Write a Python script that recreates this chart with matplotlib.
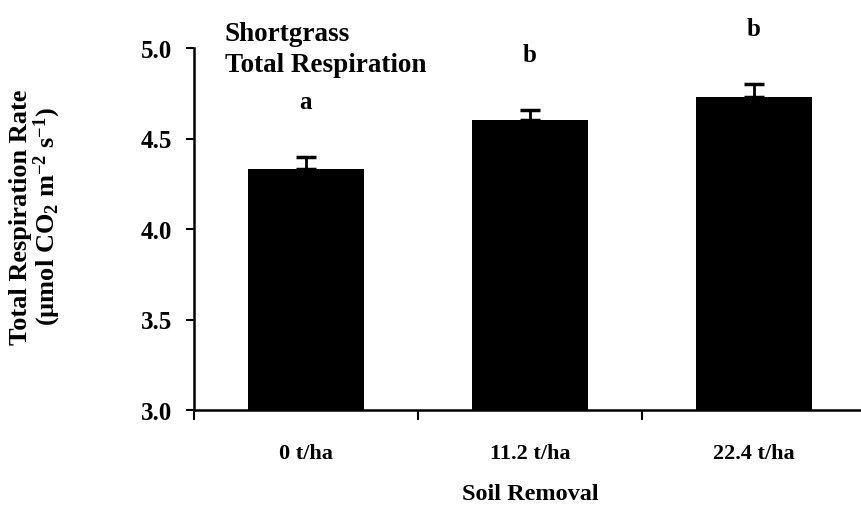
import matplotlib

matplotlib.use("Agg")
import matplotlib.pyplot as plt
import numpy as np

plt.rcParams["font.family"] = "Liberation Serif"
plt.rcParams["font.weight"] = "bold"
plt.rcParams["mathtext.fontset"] = "custom"
plt.rcParams["mathtext.rm"] = "Liberation Serif:bold"
plt.rcParams["mathtext.bf"] = "Liberation Serif:bold"
plt.rcParams["mathtext.it"] = "Liberation Serif:bold"

# Total respiration by soil removal treatment (shortgrass)
treatments = ["0 t/ha", "11.2 t/ha", "22.4 t/ha"]
mean_resp = [4.33, 4.60, 4.73]
se_resp = [0.07, 0.06, 0.07]
groups = ["a", "b", "b"]

W, H = 861, 510
fig = plt.figure(figsize=(W / 100, H / 100), dpi=100)
ax = fig.add_axes([194 / W, 99 / H, 672 / W, 362 / H])

x = np.arange(len(treatments))
ax.bar(x, mean_resp, width=0.52, color="black", zorder=2)
ax.errorbar(
    x,
    mean_resp,
    yerr=[np.zeros(len(x)), se_resp],
    fmt="none",
    ecolor="black",
    elinewidth=2,
    capsize=7,
    capthick=2.5,
    zorder=3,
)

# significance letters sit a fixed gap above each error bar
for xi, m, e, g in zip(x, mean_resp, se_resp, groups):
    ax.text(xi, m + e + 0.27, g, ha="center", va="baseline",
            fontsize=18, fontweight="bold", clip_on=False)

ax.set_xlim(-0.5, 2.5)
ax.set_ylim(3.0, 5.0)
ax.set_yticks([3.0, 3.5, 4.0, 4.5, 5.0])
ax.set_yticklabels(["3.0", "3.5", "4.0", "4.5", "5.0"])
ax.set_xticks([-0.5, 0.5, 1.5, 2.5])
ax.set_xticklabels([])
ax.set_xticks(x, minor=True)
ax.set_xticklabels(treatments, minor=True)

ax.tick_params(axis="y", which="major", direction="out", length=6, width=1.5,
               labelsize=18, pad=10)
ax.tick_params(axis="x", which="major", direction="out", length=7, width=1.5)
ax.tick_params(axis="x", which="minor", length=0, labelsize=16, pad=24)

for side in ["top", "right"]:
    ax.spines[side].set_visible(False)
for side in ["left", "bottom"]:
    ax.spines[side].set_linewidth(1.8)

ax.set_xlabel("Soil Removal", fontsize=17.5, fontweight="bold", labelpad=14)

fig.text(36 / W, 1 - 217 / H,
         "Total Respiration Rate\n(µmol CO$_\\mathrm{2}$ m$^\\mathrm{-2}$ s$^\\mathrm{-1}$)",
         rotation=90, ha="center", va="center", multialignment="center",
         fontsize=19, fontweight="bold", linespacing=1.0)

ax.text(0.046, 1.075, "Shortgrass\nTotal Respiration", transform=ax.transAxes,
        ha="left", va="top", fontsize=19.5, fontweight="bold", linespacing=1.3,
        clip_on=False)

fig.savefig("out.png", dpi=100)
